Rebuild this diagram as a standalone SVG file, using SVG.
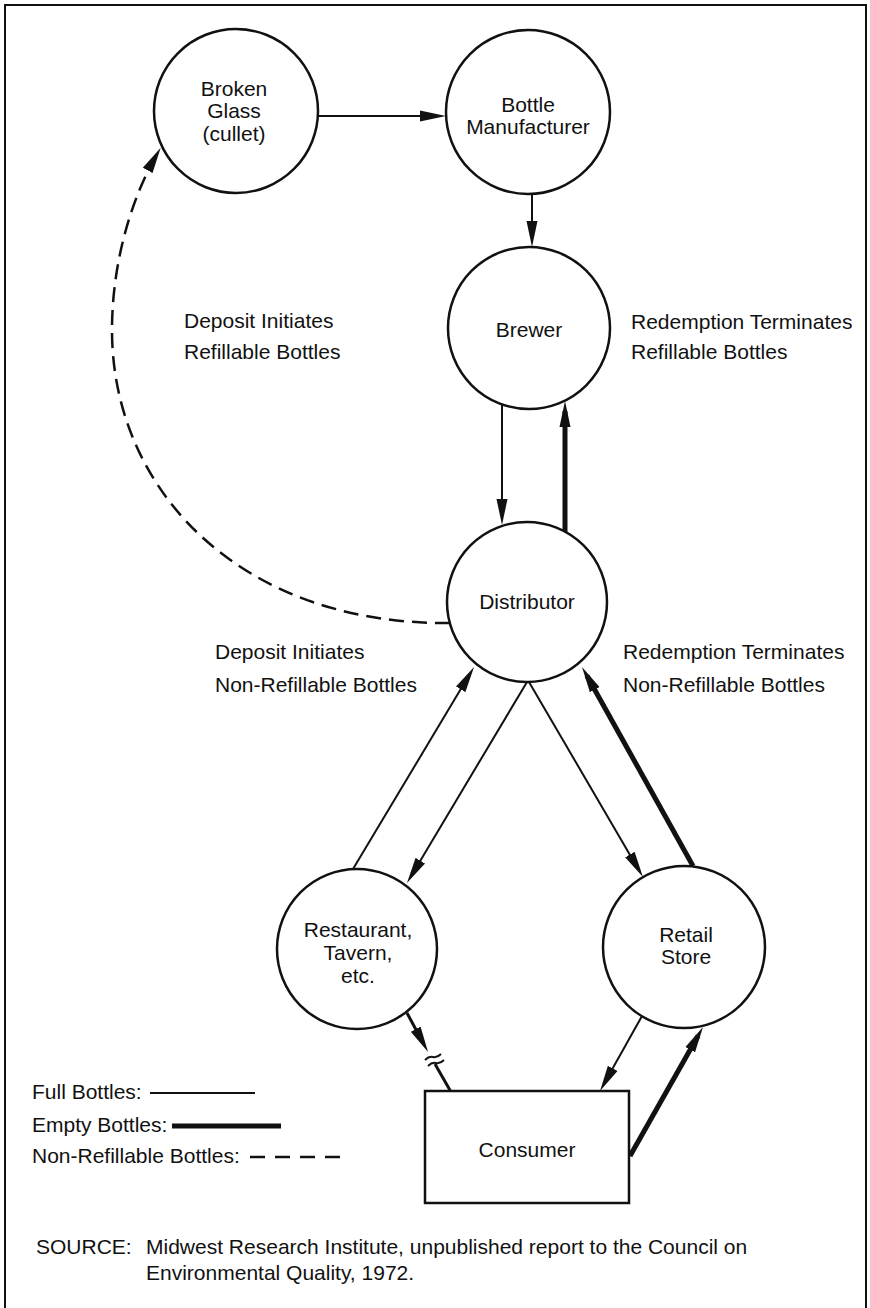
<svg xmlns="http://www.w3.org/2000/svg" width="870" height="1308" viewBox="0 0 870 1308">
<style>
text{font-family:"Liberation Sans",Arial,sans-serif;font-size:21px;fill:#111}
.c{text-anchor:middle}
.node{fill:#fff;stroke:#111;stroke-width:2.5}
.thin{fill:none;stroke:#111;stroke-width:2}
.thick{fill:none;stroke:#111;stroke-width:5}
.med{fill:none;stroke:#111;stroke-width:3}
.dash{fill:none;stroke:#111;stroke-width:2.5;stroke-dasharray:15 8}
</style>
<defs>
<marker id="ah" markerUnits="userSpaceOnUse" markerWidth="26" markerHeight="12" viewBox="0 0 26 12" refX="16" refY="6" orient="auto">
<path d="M0,0.5 L26,6 L0,11.5 z" fill="#111"/>
</marker>
</defs>
<rect width="870" height="1308" fill="#fff"/>
<path d="M5,1310 V5 H866 V1310" fill="none" stroke="#111" stroke-width="2"/>

<g id="connectors">
<line class="thin" x1="318" y1="116" x2="436" y2="116" marker-end="url(#ah)"/>
<line class="thin" x1="532" y1="194" x2="532" y2="237" marker-end="url(#ah)"/>
<line class="thin" x1="502" y1="404" x2="502" y2="515" marker-end="url(#ah)"/>
<line class="thick" x1="565" y1="532" x2="565" y2="411" marker-end="url(#ah)"/>
<line class="thin" x1="353" y1="869" x2="468.9" y2="675.6" marker-end="url(#ah)"/>
<line class="thin" x1="527" y1="682" x2="412.1" y2="874.4" marker-end="url(#ah)"/>
<line class="thin" x1="529" y1="682" x2="637.9" y2="868.4" marker-end="url(#ah)"/>
<line class="thick" x1="693" y1="866" x2="586.9" y2="675.7" marker-end="url(#ah)"/>
<line class="med" x1="407" y1="1013" x2="423.3" y2="1043.2" marker-end="url(#ah)"/>
<path class="thin" d="M425,1060 q4,-4 8,-3 q4,1 8,-3 M428,1066 q4,-4 8,-3 q4,1 8,-3"/>
<line class="med" x1="435" y1="1064" x2="451" y2="1092"/>
<line class="thin" x1="642" y1="1016" x2="604.9" y2="1082.3" marker-end="url(#ah)"/>
<line class="thick" x1="630" y1="1156" x2="698.1" y2="1035.7" marker-end="url(#ah)"/>
<path class="dash" d="M450,623 C240,625 112,490 112,330 C112,260 133,196 155.7,156.5" marker-end="url(#ah)"/>
</g>

<g id="broken-glass">
<circle class="node" cx="236" cy="111" r="82"/>
<text class="c" x="234" y="96">Broken</text>
<text class="c" x="234" y="118">Glass</text>
<text class="c" x="234" y="141">(cullet)</text>
</g>
<g id="bottle-manufacturer">
<circle class="node" cx="528" cy="112" r="82"/>
<text class="c" x="528" y="112">Bottle</text>
<text class="c" x="528" y="134">Manufacturer</text>
</g>
<g id="brewer">
<circle class="node" cx="529" cy="328" r="81"/>
<text class="c" x="529" y="337">Brewer</text>
</g>
<g id="distributor">
<circle class="node" cx="527" cy="602" r="80"/>
<text class="c" x="527" y="609">Distributor</text>
</g>
<g id="restaurant">
<circle class="node" cx="357" cy="949" r="80"/>
<text class="c" x="358" y="937">Restaurant,</text>
<text class="c" x="358" y="960">Tavern,</text>
<text class="c" x="358" y="983">etc.</text>
</g>
<g id="retail-store">
<circle class="node" cx="684" cy="947" r="81"/>
<text class="c" x="686" y="942">Retail</text>
<text class="c" x="686" y="964">Store</text>
</g>
<g id="consumer">
<rect class="node" x="425" y="1091" width="204" height="112"/>
<text class="c" x="527" y="1157">Consumer</text>
</g>

<g id="labels">
<text x="184" y="328">Deposit Initiates</text>
<text x="184" y="359">Refillable Bottles</text>
<text x="631" y="329">Redemption Terminates</text>
<text x="631" y="359">Refillable Bottles</text>
<text x="215" y="659">Deposit Initiates</text>
<text x="215" y="692">Non-Refillable Bottles</text>
<text x="623" y="659">Redemption Terminates</text>
<text x="623" y="692">Non-Refillable Bottles</text>
</g>

<g id="legend">
<text x="32" y="1099">Full Bottles:</text>
<line x1="150" y1="1093" x2="255" y2="1093" stroke="#111" stroke-width="2"/>
<text x="32" y="1132">Empty Bottles:</text>
<line x1="172" y1="1126" x2="281" y2="1126" stroke="#111" stroke-width="5"/>
<text x="32" y="1163">Non-Refillable Bottles:</text>
<line x1="250" y1="1157" x2="342" y2="1157" stroke="#111" stroke-width="2.5" stroke-dasharray="15 10"/>
</g>

<g id="source">
<text x="36" y="1254">SOURCE:</text>
<text x="146" y="1254">Midwest Research Institute, unpublished report to the Council on</text>
<text x="146" y="1280">Environmental Quality, 1972.</text>
</g>
</svg>
